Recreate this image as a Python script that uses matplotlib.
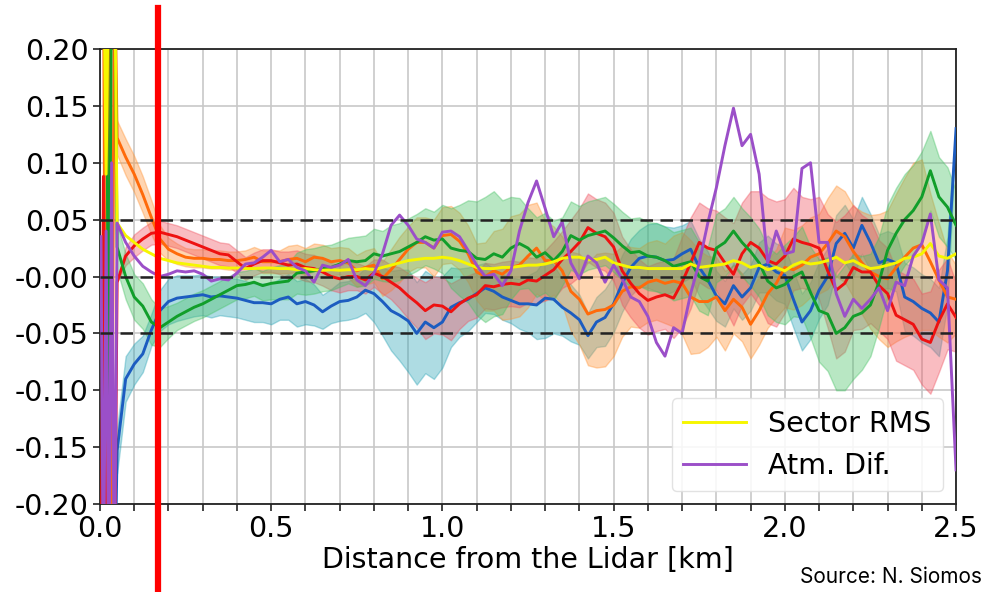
import numpy as np
import matplotlib
matplotlib.use("Agg")
import matplotlib.pyplot as plt
from matplotlib.lines import Line2D
from matplotlib.transforms import blended_transform_factory
from matplotlib.ticker import MultipleLocator

plt.rcParams["font.family"] = ["DejaVu Sans"]

# near-field samples (overlap region, values run off the axes)
near_x = [0.003, 0.01, 0.018, 0.026, 0.034, 0.042]
near_yellow = [0.3, 0.3, 0.09, 0.3, 0.3, 0.3]
near_purple = [0.035, -0.3, 0.04, -0.3, 0.1, -0.3]
near_red = [-0.3, 0.088, -0.3, -0.3, -0.3, -0.3]
near_green = [0.3, 0.3, 0.3, -0.17, 0.3, 0.3]
near_orange = [0.3, 0.3, -0.3, 0.3, -0.3, 0.3]
near_blue = [-0.3, -0.3, -0.3, -0.3, -0.3, -0.3]

# main range, 0.05 .. 2.5 km every 25 m
dist = np.arange(0.05, 2.5001, 0.025)

blue = [
    -0.153, -0.09, -0.077, -0.068, -0.047, -0.03, -0.022, -0.019, -0.018, -0.017,
    -0.016, -0.018, -0.017, -0.018, -0.019, -0.021, -0.023, -0.023, -0.024, -0.02,
    -0.018, -0.024, -0.022, -0.025, -0.031, -0.026, -0.022, -0.021, -0.018, -0.012,
    -0.015, -0.022, -0.03, -0.034, -0.039, -0.05, -0.04, -0.045, -0.04, -0.027,
    -0.023, -0.02, -0.015, -0.01, -0.013, -0.018, -0.021, -0.024, -0.024, -0.025,
    -0.019, -0.02, -0.027, -0.032, -0.038, -0.052, -0.04, -0.036, -0.024, -0.006,
    0.008, 0.016, 0.018, 0.017, 0.014, 0.015, 0.02, 0.024, 0.008, -0.003,
    -0.017, -0.024, -0.008, -0.018, -0.01, 0.008, 0.011, 0.004, 0.001, -0.02,
    -0.04, -0.03, -0.012, 0.0, 0.029, 0.038, 0.025, 0.045, 0.03, 0.012,
    0.015, 0.012, -0.018, -0.022, -0.028, -0.032, -0.04, 0.005, 0.13]
blue_err = [
    0.02, 0.02, 0.018, 0.016, 0.014, 0.018, 0.02, 0.02, 0.019, 0.018,
    0.018, 0.018, 0.017, 0.017, 0.017, 0.017, 0.017, 0.017, 0.018, 0.018,
    0.02, 0.02, 0.02, 0.018, 0.015, 0.015, 0.017, 0.017, 0.018, 0.02,
    0.025, 0.03, 0.035, 0.04, 0.045, 0.045, 0.045, 0.045, 0.04, 0.035,
    0.03, 0.028, 0.025, 0.022, 0.02, 0.02, 0.02, 0.022, 0.025, 0.03,
    0.035, 0.03, 0.025, 0.025, 0.022, 0.02, 0.022, 0.025, 0.025, 0.025,
    0.025, 0.025, 0.028, 0.03, 0.03, 0.028, 0.025, 0.025, 0.025, 0.025,
    0.022, 0.02, 0.02, 0.02, 0.02, 0.022, 0.025, 0.025, 0.025, 0.025,
    0.025, 0.025, 0.025, 0.025, 0.025, 0.025, 0.025, 0.025, 0.025, 0.025,
    0.025, 0.025, 0.03, 0.03, 0.03, 0.03, 0.03, 0.03, 0.0]

green = [
    0.026, 0.0, -0.018, -0.026, -0.04, -0.045, -0.04, -0.035, -0.031, -0.027,
    -0.024, -0.02, -0.016, -0.012, -0.008, -0.007, -0.005, -0.008, -0.006, -0.005,
    -0.004, 0.003, 0.004, 0.005, 0.007, 0.008, 0.011, 0.014, 0.013, 0.014,
    0.02, 0.018, 0.02, 0.022, 0.026, 0.03, 0.035, 0.032, 0.033, 0.025,
    0.023, 0.022, 0.016, 0.015, 0.02, 0.017, 0.025, 0.029, 0.025, 0.017,
    0.021, 0.014, 0.022, 0.036, 0.032, 0.036, 0.038, 0.04, 0.034, 0.027,
    0.021, 0.022, 0.018, 0.017, 0.014, 0.009, 0.011, 0.013, 0.0, -0.004,
    0.025, 0.03, 0.04, 0.03, 0.022, 0.012, -0.004, -0.01, -0.007, 0.0,
    0.004, -0.014, -0.03, -0.033, -0.05, -0.045, -0.035, -0.032, -0.025, -0.005,
    0.023, 0.038, 0.05, 0.058, 0.07, 0.093, 0.07, 0.061, 0.045]
green_err = [
    0.02, 0.02, 0.02, 0.02, 0.02, 0.017, 0.014, 0.012, 0.012, 0.012,
    0.012, 0.012, 0.012, 0.012, 0.012, 0.012, 0.012, 0.013, 0.014, 0.015,
    0.016, 0.018, 0.02, 0.02, 0.02, 0.02, 0.02, 0.02, 0.022, 0.022,
    0.022, 0.022, 0.025, 0.025, 0.025, 0.025, 0.025, 0.025, 0.03, 0.035,
    0.04, 0.045, 0.05, 0.055, 0.055, 0.05, 0.045, 0.04, 0.035, 0.035,
    0.035, 0.035, 0.03, 0.03, 0.03, 0.03, 0.03, 0.03, 0.03, 0.03,
    0.03, 0.03, 0.03, 0.03, 0.03, 0.03, 0.03, 0.03, 0.03, 0.03,
    0.03, 0.03, 0.03, 0.03, 0.03, 0.03, 0.03, 0.03, 0.035, 0.035,
    0.04, 0.04, 0.045, 0.05, 0.05, 0.055, 0.055, 0.05, 0.045, 0.04,
    0.04, 0.04, 0.04, 0.04, 0.04, 0.035, 0.035, 0.035, 0.03]

orange = [
    0.122, 0.105, 0.09, 0.072, 0.052, 0.033, 0.024, 0.02, 0.017, 0.016,
    0.016, 0.015, 0.015, 0.014, 0.014, 0.015, 0.017, 0.013, 0.013, 0.013,
    0.015, 0.016, 0.013, 0.017, 0.016, 0.013, 0.014, 0.012, 0.005, 0.008,
    0.01, -0.002, 0.006, 0.015, 0.024, 0.03, 0.03, 0.025, 0.036, 0.037,
    0.031, 0.02, 0.004, 0.0, 0.005, 0.002, 0.008, 0.01, 0.018, 0.025,
    0.014, 0.014, 0.005, -0.013, -0.02, -0.033, -0.03, -0.029, -0.025, -0.013,
    -0.009, -0.01, -0.005, -0.003, -0.006, -0.004, -0.006, -0.018, -0.022, -0.022,
    -0.018, -0.03, -0.02, -0.027, -0.042, -0.03, -0.015, -0.006, 0.008, 0.006,
    0.01, 0.017, 0.02, 0.029, 0.04, 0.035, 0.022, 0.012, 0.004, 0.0,
    -0.002, 0.008, 0.017, 0.025, 0.028, 0.013, -0.003, -0.018, -0.02]
orange_err = [
    0.015, 0.016, 0.016, 0.016, 0.015, 0.012, 0.01, 0.009, 0.008, 0.008,
    0.008, 0.008, 0.008, 0.008, 0.008, 0.008, 0.009, 0.01, 0.01, 0.01,
    0.012, 0.012, 0.012, 0.012, 0.012, 0.012, 0.012, 0.013, 0.014, 0.015,
    0.015, 0.015, 0.018, 0.02, 0.02, 0.022, 0.022, 0.025, 0.025, 0.025,
    0.025, 0.025, 0.025, 0.03, 0.035, 0.04, 0.045, 0.045, 0.045, 0.04,
    0.035, 0.03, 0.03, 0.035, 0.04, 0.045, 0.05, 0.05, 0.045, 0.04,
    0.035, 0.035, 0.035, 0.035, 0.035, 0.04, 0.045, 0.05, 0.045, 0.04,
    0.035, 0.035, 0.03, 0.03, 0.03, 0.03, 0.03, 0.03, 0.035, 0.035,
    0.035, 0.035, 0.035, 0.04, 0.04, 0.04, 0.04, 0.045, 0.05, 0.055,
    0.06, 0.065, 0.07, 0.075, 0.075, 0.06, 0.05, 0.04, 0.03]

red = [
    -0.005, 0.018, 0.027, 0.033, 0.038, 0.039, 0.037, 0.035, 0.032, 0.029,
    0.026, 0.023, 0.02, 0.019, 0.013, 0.007, 0.011, 0.014, 0.014, 0.012,
    0.01, 0.011, 0.008, 0.007, 0.004, 0.0, -0.002, 0.0, 0.0, -0.003,
    0.003, 0.0, -0.005, -0.01, -0.017, -0.023, -0.03, -0.025, -0.026, -0.031,
    -0.024, -0.019, -0.016, -0.008, -0.009, -0.007, -0.006, -0.007, -0.003, -0.004,
    0.001, 0.006, 0.015, 0.022, 0.03, 0.043, 0.038, 0.035, 0.026, 0.005,
    -0.006, -0.015, -0.021, -0.018, -0.016, -0.019, -0.005, 0.012, 0.03, 0.025,
    0.023, 0.012, 0.002, 0.02, 0.03, 0.025, 0.014, 0.011, 0.018, 0.033,
    0.03, 0.028, 0.025, 0.005, -0.012, -0.006, 0.008, 0.004, 0.004, -0.008,
    -0.015, -0.034, -0.038, -0.042, -0.055, -0.058, -0.039, -0.024, -0.036]
red_err = [
    0.0, 0.008, 0.01, 0.01, 0.01, 0.01, 0.01, 0.01, 0.01, 0.01,
    0.01, 0.01, 0.01, 0.01, 0.01, 0.01, 0.01, 0.01, 0.01, 0.01,
    0.012, 0.012, 0.012, 0.012, 0.012, 0.012, 0.012, 0.012, 0.012, 0.012,
    0.012, 0.015, 0.015, 0.018, 0.02, 0.022, 0.025, 0.025, 0.025, 0.025,
    0.022, 0.02, 0.02, 0.02, 0.02, 0.02, 0.02, 0.02, 0.02, 0.02,
    0.022, 0.025, 0.025, 0.028, 0.03, 0.03, 0.03, 0.03, 0.03, 0.03,
    0.03, 0.03, 0.03, 0.03, 0.03, 0.035, 0.04, 0.04, 0.035, 0.035,
    0.035, 0.04, 0.045, 0.045, 0.045, 0.05, 0.055, 0.055, 0.05, 0.045,
    0.04, 0.04, 0.045, 0.05, 0.06, 0.06, 0.055, 0.05, 0.045, 0.04,
    0.04, 0.04, 0.04, 0.04, 0.04, 0.045, 0.045, 0.04, 0.03]

atm_dif = [
    0.047, 0.03, 0.018, 0.009, 0.004, 0.0, 0.002, 0.005, 0.004, 0.005,
    0.002, -0.004, -0.002, -0.003, 0.003, 0.011, 0.012, 0.017, 0.023, 0.013,
    0.015, 0.008, 0.005, -0.005, 0.01, 0.008, 0.01, 0.015, -0.003, -0.008,
    0.003, 0.02, 0.045, 0.054, 0.045, 0.033, 0.03, 0.025, 0.039, 0.04,
    0.035, 0.023, 0.01, 0.0, 0.002, -0.008, 0.005, 0.04, 0.065, 0.084,
    0.06, 0.035, 0.048, 0.012, -0.002, 0.018, 0.012, -0.005, 0.01, -0.002,
    -0.018, -0.022, -0.035, -0.058, -0.07, -0.045, -0.05, -0.015, 0.012, 0.047,
    0.078, 0.115, 0.148, 0.115, 0.125, 0.09, 0.012, 0.04, 0.02, 0.022,
    0.095, 0.1, 0.03, 0.03, -0.015, -0.035, -0.02, -0.028, -0.02, -0.01,
    -0.03, -0.005, -0.008, 0.018, 0.029, 0.055, -0.003, -0.01, -0.17]

sector_rms = [
    0.047, 0.036, 0.03, 0.024, 0.02, 0.016, 0.014, 0.012, 0.011, 0.01,
    0.009, 0.008, 0.008, 0.0075, 0.0075, 0.007, 0.007, 0.0075, 0.0075, 0.007,
    0.007, 0.006, 0.007, 0.006, 0.0055, 0.006, 0.0055, 0.006, 0.006, 0.007,
    0.006, 0.008, 0.01, 0.012, 0.014, 0.015, 0.016, 0.016, 0.017, 0.016,
    0.014, 0.011, 0.008, 0.007, 0.007, 0.008, 0.008, 0.009, 0.01, 0.01,
    0.011, 0.013, 0.016, 0.017, 0.017, 0.015, 0.015, 0.017, 0.012, 0.01,
    0.008, 0.008, 0.007, 0.007, 0.007, 0.007, 0.007, 0.011, 0.008, 0.009,
    0.01, 0.011, 0.014, 0.012, 0.008, 0.01, 0.006, 0.008, 0.005, 0.01,
    0.013, 0.011, 0.012, 0.014, 0.017, 0.012, 0.014, 0.01, 0.007, 0.008,
    0.01, 0.012, 0.016, 0.017, 0.02, 0.029, 0.018, 0.016, 0.02]

ref_levels = [-0.05, 0.0, 0.05]
ytick_vals = [-0.20, -0.15, -0.10, -0.05, 0.0, 0.05, 0.10, 0.15, 0.20]
ytick_labels = ["-0.20", "-0.15", "-0.10", "-0.05", "-0.00", "0.05", "0.10", "0.15", "0.20"]
xtick_vals = [0.0, 0.5, 1.0, 1.5, 2.0, 2.5]
xtick_labels = ["0.0", "0.5", "1.0", "1.5", "2.0", "2.5"]
marker_km = 0.168

fig = plt.figure(figsize=(9.85, 5.92), dpi=100)
ax = fig.add_axes([0.1015, 0.1486, 0.8691, 0.7686])

bands = [
    (blue, blue_err, "#2aa3b6"),
    (orange, orange_err, "#ff9232"),
    (red, red_err, "#f0505e"),
    (green, green_err, "#45c163"),
]
for vals, err, col in bands:
    v = np.array(vals)
    e = np.array(err)
    ax.fill_between(dist, v - e, v + e, color=col, alpha=0.38, lw=1.0, zorder=2)

full_x = np.concatenate([near_x, dist])
series = [
    (near_blue, blue, "#1c5cc0", None),
    (near_orange, orange, "#ff6a0a", None),
    (near_red, red, "#ee1111", None),
    (near_green, green, "#119e2a", None),
    (near_yellow, sector_rms, "#f6f600", "Sector RMS"),
    (near_purple, atm_dif, "#9b4fc8", "Atm. Dif."),
]
for near, vals, col, lab in series:
    ax.plot(full_x, np.concatenate([near, vals]), color=col, lw=2.1, label=lab, zorder=3)

for lvl in ref_levels:
    ax.axhline(lvl, color="#222222", lw=1.8, ls=(0, (5, 3)), zorder=4)

ax.set_xlim(0, 2.5)
ax.set_ylim(-0.2, 0.2)
ax.xaxis.set_minor_locator(MultipleLocator(0.1))
ax.set_xticks(xtick_vals)
ax.set_xticklabels(xtick_labels)
ax.set_yticks(ytick_vals)
ax.set_yticklabels(ytick_labels)
ax.grid(which="both", color="#c8c8c8", lw=1.2)
ax.set_axisbelow(True)
ax.tick_params(which="both", direction="out", length=5, width=1.2, labelsize=20.5,
               color="#222222", pad=3)
for sp in ax.spines.values():
    sp.set_linewidth(1.3)
    sp.set_color("#222222")

ax.set_xlabel("Distance from the Lidar [km]", fontsize=20.5, labelpad=2)

ax.legend(loc="lower right", fontsize=20.5, handlelength=2.2, framealpha=0.85,
          borderaxespad=0.45, edgecolor="#dddddd")

# red marker line drawn over the whole figure height
trans = blended_transform_factory(ax.transData, fig.transFigure)
fig.add_artist(Line2D([marker_km, marker_km], [0.0, 0.987], transform=trans,
                      color="#ff0000", lw=4.5, zorder=10))

fig.text(0.997, 0.015, "Source: N. Siomos", ha="right", va="baseline",
         fontsize=15, family=["Inter", "DejaVu Sans"])

fig.savefig("out.png", dpi=100)
